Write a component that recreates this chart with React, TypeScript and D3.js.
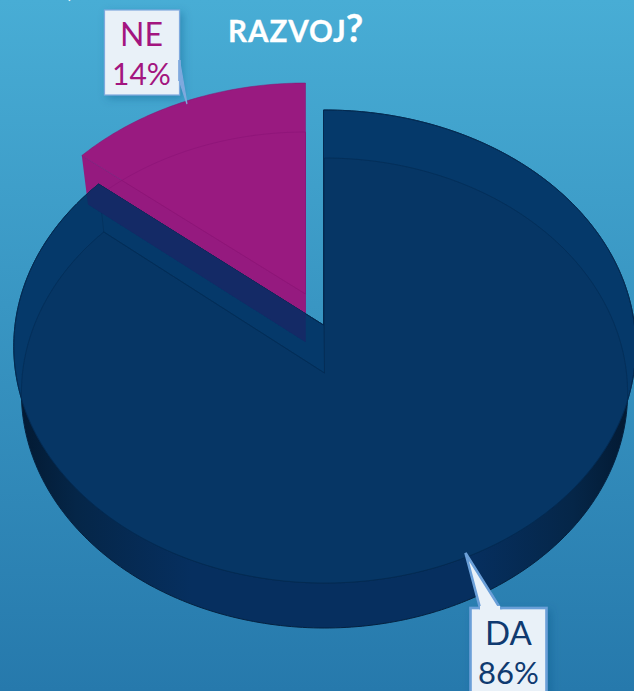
import React from 'react';
import * as d3 from 'd3';

const categories = ['DA', 'NE'];
const values = [86, 14];
const labels = ['86%', '14%'];
const titleWord = 'RAZVOJ';

const W = 634;
const H = 691;

type Face = { ax: number; ay: number; rx: number; up: number; down: number; lean: number };

// tilted faces of the pie: apex position, half width at apex, reach up and down
const daTop: Face = { ax: 323.5, ay: 325, rx: 309.7, up: 215, down: 258, lean: -0.004 };
const daBottom: Face = { ax: 324.5, ay: 373, rx: 302, up: 215, down: 255, lean: 0 };
const neTop: Face = { ax: 305.5, ay: 294, rx: 306, up: 211, down: 250, lean: 0 };
const neBottom: Face = { ax: 305.5, ay: 342, rx: 298, up: 210, down: 250, lean: 0 };

const slices = d3.pie<number>().sort(null)(values);

// circle -> perspective plane, so the apex is off the ellipse centre
const project = (f: Face, angle: number): [number, number] => {
	const u = Math.sin(angle);
	const v = Math.cos(angle);
	const c = (f.down - f.up) / (f.down + f.up);
	const a = f.up * (1 + c);
	const d = c * v + f.lean * u + 1;
	return [f.ax + (f.rx * u) / d, f.ay - (a * v) / d];
};

const toPath = d3.line();

const slicePath = (f: Face, start: number, end: number) => {
	const n = Math.max(2, Math.ceil((end - start) * 60));
	const arc = d3.range(n + 1).map((i) => project(f, start + ((end - start) * i) / n));
	return `${toPath([[f.ax, f.ay], ...arc])}Z`;
};

const wallPath = (f1: Face, f2: Face, angle: number) =>
	`${toPath([[f1.ax, f1.ay], project(f1, angle), project(f2, angle), [f2.ax, f2.ay]])}Z`;

function Callout({ box, tail, cat, pct, color, stroke, sw, cx, y1, y2, tailFill, catSize, pctSize }: any) {
	return (
		<g>
			<rect {...box} fill="#e9f1f8" stroke={stroke} strokeWidth={sw} filter="url(#boxShadow)" />
			<path d={`${toPath(tail)}Z`} fill={tailFill} stroke={stroke} strokeWidth={sw} strokeLinejoin="miter" />
			<path d={toPath([tail[0], tail[2]]) as string} stroke={tailFill} strokeWidth={sw + 1.5} />
			<g fill={color} fontFamily="Lato, sans-serif" fontWeight={400} textAnchor="middle">
				<text x={cx} y={y1} fontSize={catSize}>{cat}</text>
				<text x={cx} y={y2} fontSize={pctSize}>{pct}</text>
			</g>
		</g>
	);
}

export default function App() {
	const da = slices[0];
	const ne = slices[1];
	const daTopD = slicePath(daTop, da.startAngle, da.endAngle);
	const daBottomD = slicePath(daBottom, da.startAngle, da.endAngle);
	const neTopD = slicePath(neTop, ne.startAngle, ne.endAngle);
	const neBottomD = slicePath(neBottom, ne.startAngle, ne.endAngle);
	const neWallD = wallPath(neTop, neBottom, ne.startAngle);
	const daWallD = wallPath(daTop, daBottom, da.endAngle);

	return (
		<svg width={W} height={H} viewBox={`0 0 ${W} ${H}`} style={{ position: 'absolute', left: 0, top: 0, display: 'block' }}>
			<defs>
				<linearGradient id="bg" x1="0" y1="0" x2="0" y2="1">
					<stop offset="0%" stopColor="#48add5" />
					<stop offset="100%" stopColor="#2679ac" />
				</linearGradient>
				<linearGradient id="wall" x1="0" y1="0" x2="1" y2="0">
					<stop offset="0%" stopColor="#031a33" />
					<stop offset="9%" stopColor="#052648" />
					<stop offset="28%" stopColor="#062f5f" />
					<stop offset="74%" stopColor="#062f5f" />
					<stop offset="91%" stopColor="#052648" />
					<stop offset="100%" stopColor="#031a33" />
				</linearGradient>
				<clipPath id="clipBottom"><path d={daBottomD} /></clipPath>
				<clipPath id="clipTop"><path d={daTopD} /></clipPath>
				<filter id="boxShadow" x="-20%" y="-20%" width="150%" height="150%">
					<feDropShadow dx="3" dy="3" stdDeviation="4" floodColor="#0c4f80" floodOpacity="0.35" />
				</filter>
			</defs>

			<rect width={W} height={H} fill="url(#bg)" />

			{/* title */}
			<text x={228} y={42} fill="#fff" fontFamily="Lato, sans-serif" fontWeight={700} fontSize={29.5} letterSpacing={1} stroke="#fff" strokeWidth={0.3}>
				{titleWord}
				<tspan fontSize={38} dx={-1}>?</tspan>
			</text>
			<text x={67} y={-3} fill="#fff" fontFamily="Lato, sans-serif" fontWeight={700} fontSize={28}>,</text>

			{/* NE slice */}
			<g>
				<path d={neBottomD} fill="#961b80" />
				<path d={neWallD} fill="#951a7f" />
				<path d={neTopD} fill="#991a80" />
				<path d={neTopD} fill="none" stroke="#85136f" strokeWidth={0.5} />
				<path d={neBottomD} fill="none" stroke="#8a1376" strokeWidth={0.6} />
			</g>

			{/* DA slice: wall, top face, then the far edge seen through it */}
			<path d={daBottomD} fill="url(#wall)" stroke="#04213f" strokeWidth={1} />
			<path d={daTopD} fill="#05396a" stroke="#042a50" strokeWidth={1} />
			<path d={daTopD} fill="#063665" clipPath="url(#clipBottom)" />
			<path d={daBottomD} fill="none" stroke="#042c55" strokeWidth={0.7} clipPath="url(#clipTop)" />
			<path d={daWallD} fill="none" stroke="#042c55" strokeWidth={0.5} />
			<path d={daTopD} fill="none" stroke="#042a50" strokeWidth={0.8} />

			{/* NE side seen over the DA slice */}
			<g clipPath="url(#clipTop)">
				<path d={neBottomD} fill="#142a66" />
				<path d={neWallD} fill="#142a66" />
				<path d={neTopD} fill="#142a66" />
			</g>

			<Callout
				box={{ x: 104.5, y: 10, width: 75, height: 85 }}
				tail={[[179.5, 60], [187, 104], [179.5, 81]]}
				cat={categories[1]}
				pct={labels[1]}
				color="#a3157f"
				stroke="#7fa9de"
				sw={1.2}
				cx={141.5}
				y1={46}
				y2={85}
				tailFill="#7fa9de"
				catSize={32}
				pctSize={30}
			/>
			<Callout
				box={{ x: 470.5, y: 608, width: 76, height: 100 }}
				tail={[[480, 608], [465.5, 553], [500, 608]]}
				cat={categories[0]}
				pct={labels[0]}
				color="#0f3a70"
				stroke="#6a9fd8"
				sw={2.6}
				cx={508.5}
				y1={645}
				y2={684}
				tailFill="#e9f1f8"
				catSize={33}
				pctSize={31}
			/>
		</svg>
	);
}
